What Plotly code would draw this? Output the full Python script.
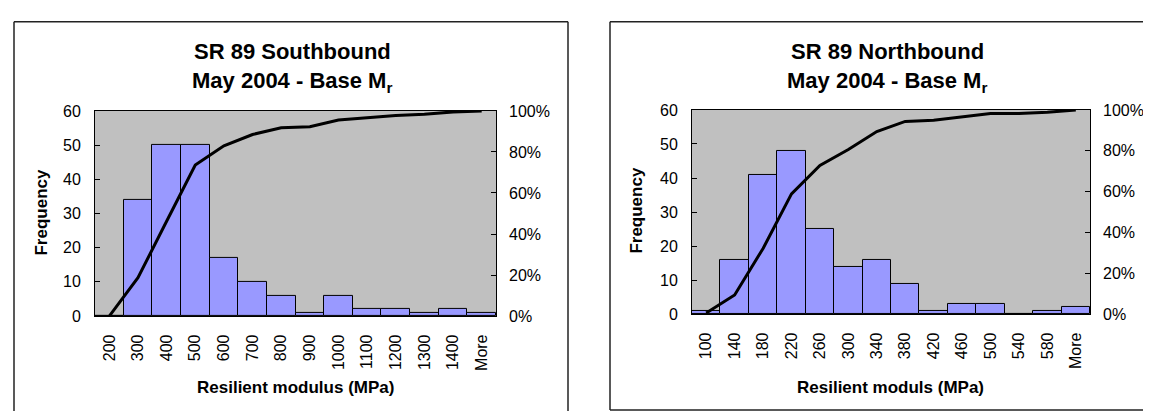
import plotly.graph_objects as go

W, H = 1151, 412

# ---- data ----
sb_bins = ["200", "300", "400", "500", "600", "700", "800", "900", "1000",
           "1100", "1200", "1300", "1400", "More"]
sb_freq = [0, 34, 50, 50, 17, 10, 6, 1, 6, 2, 2, 1, 2, 1]
sb_cum = [0.0, 18.7, 46.2, 73.6, 83.0, 88.5, 91.8, 92.3, 95.6, 96.7, 97.8, 98.4, 99.5, 100.0]

nb_bins = ["100", "140", "180", "220", "260", "300", "340", "380", "420",
           "460", "500", "540", "580", "More"]
nb_freq = [1, 16, 41, 48, 25, 14, 16, 9, 1, 3, 3, 0, 1, 2]
nb_cum = [0.6, 9.4, 32.2, 58.9, 72.8, 80.6, 89.4, 94.4, 95.0, 96.7, 98.3, 98.3, 98.9, 100.0]

freq_ticks = [0, 10, 20, 30, 40, 50, 60]
pct_ticks = [0, 20, 40, 60, 80, 100]
pct_labels = ["0%", "20%", "40%", "60%", "80%", "100%"]

FONT = "Liberation Sans, Arial, sans-serif"
BAR = "#9999FF"
BG = "#C0C0C0"


def px(x):
    return x / W


def py(y):
    return 1 - y / H


fig = go.Figure()

charts = [
    dict(bins=sb_bins, freq=sb_freq, cum=sb_cum, xa="x", ya="y", ya2="y2",
         plot=(87, 488, 99, 313), title="SR 89 Southbound",
         xtitle="Resilient modulus (MPa)", tcx=284, xtcx=287, ftx=34, fty=205),
    dict(bins=nb_bins, freq=nb_freq, cum=nb_cum, xa="x2", ya="y3", ya2="y4",
         plot=(684, 1082, 98, 311), title="SR 89 Northbound",
         xtitle="Resilient moduls (MPa)", tcx=879, xtcx=883, ftx=629, fty=203),
]

for c in charts:
    fig.add_trace(go.Bar(x=c["bins"], y=c["freq"], xaxis=c["xa"], yaxis=c["ya"],
                         width=1, marker=dict(color=BAR, line=dict(color="#000000", width=1)),
                         showlegend=False))
    fig.add_trace(go.Scatter(x=c["bins"], y=c["cum"], xaxis=c["xa"], yaxis=c["ya2"],
                             mode="lines", line=dict(color="#000000", width=3),
                             showlegend=False))

layout = dict(
    width=W, height=H, margin=dict(l=0, r=0, t=0, b=0),
    paper_bgcolor="white", plot_bgcolor=BG,
    font=dict(family=FONT, size=16, color="#000000"),
    bargap=0,
)

axis_common_x = dict(type="category", showgrid=False, zeroline=False, showline=True,
                     linecolor="#000000", linewidth=1, mirror=True, ticks="",
                     tickangle=-90, ticklabelstandoff=11,
                     tickfont=dict(family=FONT, size=16), range=[-0.5, 13.5])
axis_common_y = dict(showgrid=False, zeroline=False, showline=True, linecolor="#000000",
                     linewidth=1, mirror=True, ticks="inside", ticklen=5, tickcolor="#000000",
                     range=[0, 60], tickvals=freq_ticks, ticklabelstandoff=10,
                     tickfont=dict(family=FONT, size=16))
axis_common_y2 = dict(showgrid=False, zeroline=False, showline=False, side="right",
                      ticks="inside", ticklen=5, tickcolor="#000000", range=[0, 100],
                      tickmode="array", tickvals=pct_ticks, ticktext=pct_labels,
                      ticklabelstandoff=12, tickfont=dict(family=FONT, size=16))

(l1, r1, t1, b1) = charts[0]["plot"]
(l2, r2, t2, b2) = charts[1]["plot"]
layout["xaxis"] = dict(axis_common_x, domain=[px(l1), px(r1)], anchor="y")
layout["yaxis"] = dict(axis_common_y, domain=[py(b1), py(t1)], anchor="x")
layout["yaxis2"] = dict(axis_common_y2, domain=[py(b1), py(t1)], anchor="x", overlaying="y")
layout["xaxis2"] = dict(axis_common_x, domain=[px(l2), px(r2)], anchor="y3")
layout["yaxis3"] = dict(axis_common_y, domain=[py(b2), py(t2)], anchor="x2")
layout["yaxis4"] = dict(axis_common_y2, domain=[py(b2), py(t2)], anchor="x2", overlaying="y3")

fig.update_layout(**layout)

annotations = []
for c in charts:
    annotations.append(dict(
        text="<b>" + c["title"] + "</b>",
        x=px(c["tcx"]), y=py(37), xref="paper", yref="paper", showarrow=False,
        xanchor="center", yanchor="middle",
        font=dict(family=FONT, size=22, color="#000000")))
    annotations.append(dict(
        text="<b>May 2004 - Base M<sub>r</sub></b>",
        x=px(c["tcx"]), y=py(69), xref="paper", yref="paper", showarrow=False,
        xanchor="center", yanchor="middle",
        font=dict(family=FONT, size=22, color="#000000")))
    annotations.append(dict(
        text="<b>" + c["xtitle"] + "</b>", x=px(c["xtcx"]), y=py(387),
        xref="paper", yref="paper", showarrow=False, xanchor="center", yanchor="middle",
        font=dict(family=FONT, size=17, color="#000000")))
    annotations.append(dict(
        text="<b>Frequency</b>", x=px(c["ftx"]), y=py(c["fty"]), textangle=-90,
        xref="paper", yref="paper", showarrow=False, xanchor="center", yanchor="middle",
        font=dict(family=FONT, size=17, color="#000000")))
fig.update_layout(annotations=annotations)

# chart frames (only the visible edges)
frame = dict(color="#222222", width=1.5)
for (x0, y0, x1, y1) in [
    (6, 6, 560, 6), (6, 6, 6, 412), (560, 6, 560, 412),          # left chart
    (602, 6, 1151, 6), (602, 6, 602, 411), (602, 411, 1151, 411),  # right chart
]:
    fig.add_shape(type="line", xref="paper", yref="paper",
                  x0=px(x0), y0=py(y0), x1=px(x1), y1=py(y1), line=frame, layer="below")

fig.write_html("out.html")
